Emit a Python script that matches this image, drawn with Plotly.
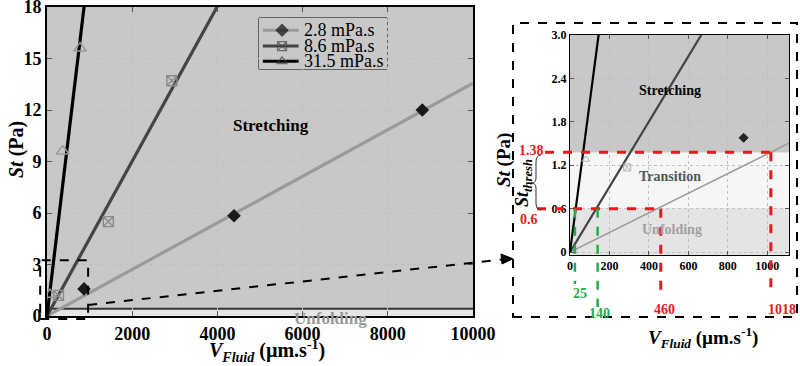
import plotly.graph_objects as go

W, H = 800, 366
FONT = "Liberation Serif, Times New Roman, serif"

# ---------------- data ----------------
series_names = ["2.8 mPa.s", "8.6 mPa.s", "31.5 mPa.s"]
d28_x = [870, 4390, 8810]
d28_y = [1.58, 5.84, 12.0]
d86_x = [270, 1440, 2930]
d86_y = [1.2, 5.5, 13.7]
d315_x = [70, 368, 775]
d315_y = [1.25, 9.6, 15.6]
fit_slopes = [0.001356, 0.00451, 0.0207]   # St per (um/s)

inset_pts_x = [880, 290, 80]
inset_pts_y = [1.58, 1.17, 1.28]

main_xticks = [0, 2000, 4000, 6000, 8000, 10000]
main_yticks = [0, 3, 6, 9, 12, 15, 18]
inset_xticks = [0, 200, 400, 600, 800, 1000]
inset_yticks = [0, 0.6, 1.2, 1.8, 2.4, 3.0]
inset_yticktext = ["0", "0.6", "1.2", "1.8", "2.4", "3.0"]

st_low, st_high = 0.6, 1.38
v_red = [460, 1018]
v_green = [25, 140]

# ---------------- geometry ----------------
MX0, MX1, MY0, MY1 = 47, 473, 316, 7          # main plot pixel box
MXR, MYR = [0, 10000], [0, 18]
IX0, IX1, IY0, IY1 = 570, 789, 255, 35        # inset pixel box
IXR, IYR = [0, 1110], [-0.04, 3.0]
LX0, LX1, LY0, LY1 = 259, 387, 69, 18         # legend box


def P(px, py):
    return px / W, 1 - py / H


def m_px(x, y):
    return (MX0 + (x - MXR[0]) / (MXR[1] - MXR[0]) * (MX1 - MX0),
            MY0 - (y - MYR[0]) / (MYR[1] - MYR[0]) * (MY0 - MY1))


def i_px(x, y):
    return (IX0 + (x - IXR[0]) / (IXR[1] - IXR[0]) * (IX1 - IX0),
            IY0 - (y - IYR[0]) / (IYR[1] - IYR[0]) * (IY0 - IY1))


line_cols = ["#9a9a9a", "#444444", "#000000"]
marker_syms = ["diamond", "square-x-open", "triangle-up-open"]
marker_cols = ["#1a1a1a", "#8a8a8a", "#999999"]
marker_sizes = [9, 10, 11]

fig = go.Figure()

# main fit lines
for s, c in zip(fit_slopes, line_cols):
    xs = [0, MXR[1]]
    fig.add_trace(go.Scatter(x=xs, y=[s * v for v in xs], mode="lines",
                             line=dict(color=c, width=3.2), showlegend=False,
                             xaxis="x", yaxis="y", hoverinfo="skip"))
# main markers
for (xs, ys), sym, mc, ms in zip([(d28_x, d28_y), (d86_x, d86_y), (d315_x, d315_y)],
                                 marker_syms, marker_cols, marker_sizes):
    fig.add_trace(go.Scatter(x=xs, y=ys, mode="markers",
                             marker=dict(symbol=sym, color=mc, size=ms,
                                         line=dict(color=mc, width=1.4)),
                             showlegend=False, xaxis="x", yaxis="y"))

# inset fit lines
for s, c, w in zip(fit_slopes, line_cols, [1.6, 2.2, 2.2]):
    xs = [0, IXR[1]]
    fig.add_trace(go.Scatter(x=xs, y=[s * v for v in xs], mode="lines",
                             line=dict(color=c, width=w), showlegend=False,
                             xaxis="x2", yaxis="y2", hoverinfo="skip"))
for xv, yv, sym, mc in zip(inset_pts_x, inset_pts_y, marker_syms,
                           ["#222222", "#b0b0b0", "#b0b0b0"]):
    fig.add_trace(go.Scatter(x=[xv], y=[yv], mode="markers",
                             marker=dict(symbol=sym, color=mc, size=7,
                                         line=dict(color=mc, width=1)),
                             showlegend=False, xaxis="x2", yaxis="y2"))

# hand-made legend on a hidden axis pair (x3/y3 spans the legend box, range 0..1)
leg_rows = [0.76, 0.45, 0.15]
for yr, c, sym, mc in zip(leg_rows, line_cols, marker_syms, ["#111111", "#444444", "#444444"]):
    fig.add_trace(go.Scatter(x=[0.03, 0.18, 0.31], y=[yr, yr, yr], mode="lines+markers",
                             line=dict(color=c, width=3),
                             marker=dict(symbol=sym, color=mc, size=[0, 9, 0],
                                         line=dict(color=mc, width=1.2)),
                             showlegend=False, xaxis="x3", yaxis="y3", cliponaxis=False,
                             hoverinfo="skip"))

shapes = []


def pline(p0, p1, color, width, dash="solid"):
    a = P(*p0)
    b = P(*p1)
    shapes.append(dict(type="line", xref="paper", yref="paper",
                       x0=a[0], y0=a[1], x1=b[0], y1=b[1],
                       line=dict(color=color, width=width, dash=dash)))


# main unfolding band
shapes.append(dict(type="rect", xref="x", yref="y", x0=MXR[0], x1=MXR[1], y0=0, y1=0.42,
                   fillcolor="#e6e6e6", line=dict(width=0), layer="below"))
shapes.append(dict(type="line", xref="x", yref="y", x0=MXR[0], x1=MXR[1], y0=0.42, y1=0.42,
                   line=dict(color="#333333", width=2), layer="below"))

# inset bands
for y0, y1, col in [(IYR[0], st_low, "#e4e4e4"), (st_low, st_high, "#f6f6f6"),
                    (st_high, IYR[1], "#c8c8c8")]:
    shapes.append(dict(type="rect", xref="x2", yref="y2", x0=IXR[0], x1=IXR[1], y0=y0, y1=y1,
                       fillcolor=col, line=dict(width=0), layer="below"))

# legend box
a = P(LX0, LY1); b = P(LX1, LY0)
shapes.append(dict(type="rect", xref="paper", yref="paper", x0=a[0], y0=b[1], x1=b[0], y1=a[1],
                   fillcolor="white", line=dict(color="black", width=1), layer="below"))

# zoom rectangle in main plot
zx0, zy0 = m_px(-160, 3.25)
zx1, zy1 = m_px(965, -0.17)
a = P(zx0, zy0); b = P(zx1, zy1)
shapes.append(dict(type="rect", xref="paper", yref="paper", x0=a[0], y0=b[1], x1=b[0], y1=a[1],
                   line=dict(color="black", width=2, dash="dash")))
# arrow
start = m_px(965, 0.64)
pline(start, (502, 259.5), "black", 2, "dash")
h0 = P(513, 258.8); h1 = P(501, 254); h2 = P(502, 264)
shapes.append(dict(type="path", xref="paper", yref="paper",
                   path=f"M {h0[0]},{h0[1]} L {h1[0]},{h1[1]} L {h2[0]},{h2[1]} Z",
                   fillcolor="black", line=dict(color="black", width=1)))
# inset dashed frame
a = P(513, 23); b = P(797, 317)
shapes.append(dict(type="rect", xref="paper", yref="paper", x0=a[0], y0=b[1], x1=b[0], y1=a[1],
                   line=dict(color="black", width=2, dash="dash")))

RED = "#e8191d"
GREEN = "#1fae48"
# red threshold lines
yh = i_px(0, st_high)[1]
xr1 = i_px(v_red[1], 0)[0]
pline((545, yh), (xr1, yh), RED, 3, "dash")
pline((xr1, yh), (xr1, 292), RED, 3, "dash")
yl = i_px(0, st_low)[1]
xr0 = i_px(v_red[0], 0)[0]
pline((537, yl), (xr0, yl), RED, 3, "dash")
pline((xr0, yl), (xr0, 292), RED, 3, "dash")
# green lines
xg0 = i_px(v_green[0], 0)[0]
xg1 = i_px(v_green[1], 0)[0]
pline((xg0, yl), (xg0, 284), GREEN, 2.5, "dash")
pline((xg1, yl), (xg1, 307), GREEN, 2.5, "dash")

# brace for St_thresh
pts = [(541, 155), (536, 155), (536, 162), (536, 178), (536, 183), (531, 183),
       (536, 183), (536, 188), (536, 203), (536, 210), (541, 210)]
pp = [P(*q) for q in pts]
path = (f"M {pp[0][0]},{pp[0][1]} Q {pp[1][0]},{pp[1][1]} {pp[2][0]},{pp[2][1]} "
        f"L {pp[3][0]},{pp[3][1]} Q {pp[4][0]},{pp[4][1]} {pp[5][0]},{pp[5][1]} "
        f"Q {pp[6][0]},{pp[6][1]} {pp[7][0]},{pp[7][1]} L {pp[8][0]},{pp[8][1]} "
        f"Q {pp[9][0]},{pp[9][1]} {pp[10][0]},{pp[10][1]}")
shapes.append(dict(type="path", xref="paper", yref="paper", path=path,
                   line=dict(color="#333333", width=1)))

annotations = []


def txt(px, py, text, size, color="black", angle=0, xanchor="center"):
    x, y = P(px, py)
    annotations.append(dict(x=x, y=y, xref="paper", yref="paper", text=text, showarrow=False,
                            xanchor=xanchor, yanchor="middle", textangle=angle,
                            font=dict(family=FONT, size=size, color=color)))


# legend labels
for yr, name in zip(leg_rows, series_names):
    py = LY0 - yr * (LY0 - LY1)
    txt(302, py, name, 18, xanchor="left")

txt(271, 125, "<b>Stretching</b>", 17)
txt(330, 318, "<b>Unfolding</b>", 17, "#9a9a9a")
txt(16, 150, "<b><i>St</i> (Pa)</b>", 20, angle=-90)
txt(267, 351, "<b><i>V<sub>Fluid</sub></i> (µm.s<sup>-1</sup>)</b>", 20)

txt(670, 91, "<b>Stretching</b>", 14)
txt(670, 176, "<b>Transition</b>", 14, "#555555")
txt(672, 229, "<b>Unfolding</b>", 14, "#a0a0a0")
txt(504, 160, "<b><i>St</i> (Pa)</b>", 19, angle=-90)
txt(523, 183, "<b><i>St<sub>thresh</sub></i></b>", 18, angle=-90)
txt(703, 337, "<b><i>V<sub>Fluid</sub></i> (µm.s<sup>-1</sup>)</b>", 19)

txt(531, 150, "<b>1.38</b>", 14, RED)
txt(529, 219, "<b>0.6</b>", 14, RED)
txt(664, 309, f"<b>{v_red[0]}</b>", 14, RED)
txt(782, 309, f"<b>{v_red[1]}</b>", 14, RED)
txt(580, 293, f"<b>{v_green[0]}</b>", 14, GREEN)
txt(599, 313, f"<b>{v_green[1]}</b>", 14, GREEN)

axis_common = dict(showline=True, linecolor="black", mirror="ticks", ticks="inside",
                   tickcolor="#555555", zeroline=False, showgrid=True, automargin=False,
                   gridcolor="#bfbfbf", griddash="dot", gridwidth=1,
                   ticklabeloverflow="allow")
hidden = dict(visible=False, range=[0, 1], automargin=False, fixedrange=True)

fig.update_layout(
    template="none",
    width=W, height=H, margin=dict(l=0, r=0, t=0, b=0, pad=0, autoexpand=False),
    paper_bgcolor="white", plot_bgcolor="#c8c8c8",
    font=dict(family=FONT, color="black"),
    xaxis=dict(domain=[MX0 / W, MX1 / W], range=MXR, anchor="y", tickvals=main_xticks,
               ticktext=[f"<b>{v}</b>" for v in main_xticks], ticklen=5, linewidth=2,
               tickfont=dict(size=18, family=FONT), **axis_common),
    yaxis=dict(domain=[1 - MY0 / H, 1 - MY1 / H], range=MYR, anchor="x", tickvals=main_yticks,
               ticktext=[f"<b>{v}</b>" for v in main_yticks], ticklen=5, linewidth=2,
               tickfont=dict(size=18, family=FONT), **axis_common),
    xaxis2=dict(domain=[IX0 / W, IX1 / W], range=IXR, anchor="y2", tickvals=inset_xticks,
                ticktext=[f"<b>{v}</b>" for v in inset_xticks], ticklen=4, linewidth=1,
                tickfont=dict(size=12, family=FONT), **axis_common),
    yaxis2=dict(domain=[1 - IY0 / H, 1 - IY1 / H], range=IYR, anchor="x2", tickvals=inset_yticks,
                ticktext=[f"<b>{t}</b>" for t in inset_yticktext], ticklen=4, linewidth=1,
                tickfont=dict(size=12, family=FONT), **axis_common),
    xaxis3=dict(domain=[LX0 / W, LX1 / W], anchor="y3", **hidden),
    yaxis3=dict(domain=[1 - LY0 / H, 1 - LY1 / H], anchor="x3", **hidden),
    shapes=shapes, annotations=annotations, showlegend=False,
)

fig.write_html("out.html", config={"displayModeBar": False},
               post_script="document.body.style.margin='0';document.body.style.overflow='hidden';")
